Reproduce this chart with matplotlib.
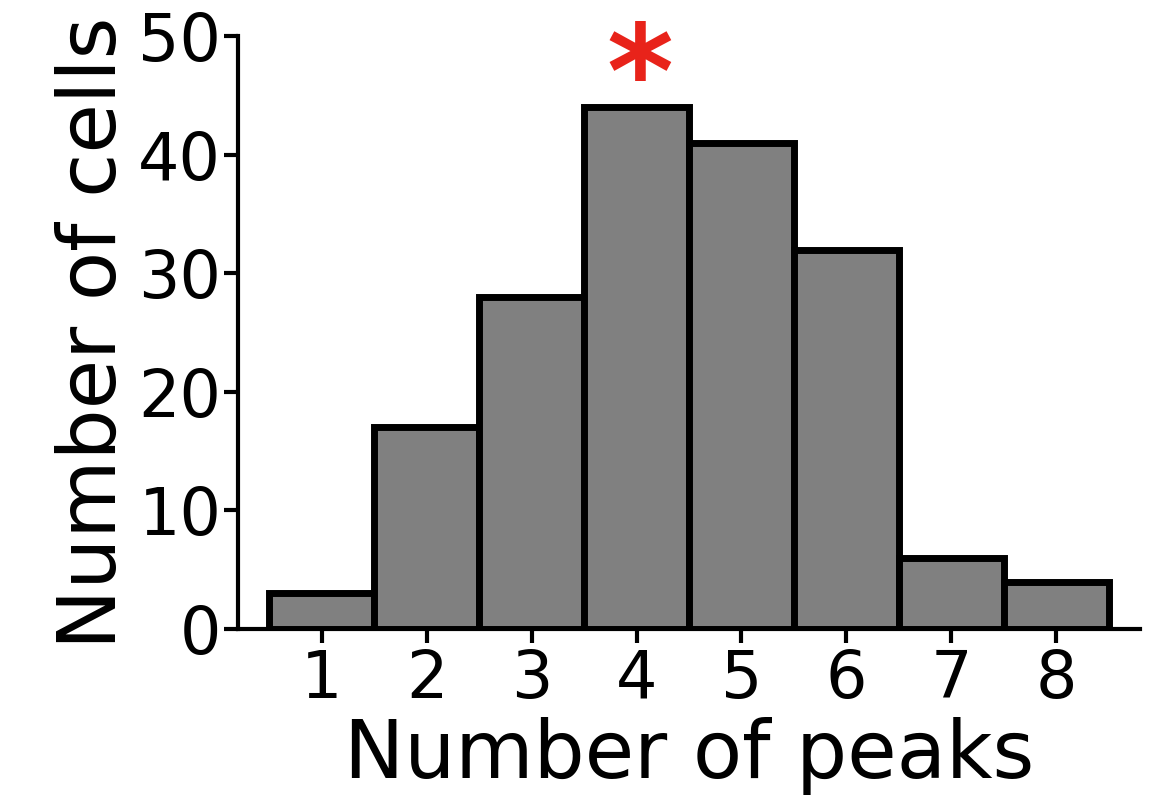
import numpy as np
import matplotlib.pyplot as plt

peaks = [1, 2, 3, 4, 5, 6, 7, 8]
cells = [3, 17, 28, 44, 41, 32, 6, 4]

fig = plt.figure(figsize=(11.52, 8.02), dpi=100)
ax = fig.add_axes([0.2066, 0.2157, 0.7830, 0.7393])

ax.bar(peaks, cells, width=1.0, color='#808080', edgecolor='black', linewidth=5)

# significance marker over the tallest bar
ax.text(4.03, 43.2, '*', color='#e8231a', fontsize=92, fontweight='bold',
        ha='center', va='baseline', clip_on=False, zorder=5)

ax.set_xlim(0.2, 8.8)
ax.set_ylim(0, 50)
ax.set_xticks(peaks)
ax.set_yticks([0, 10, 20, 30, 40, 50])
ax.tick_params(labelsize=47, width=3, length=10)
ax.tick_params(axis='y', pad=2)
ax.spines['top'].set_visible(False)
ax.spines['right'].set_visible(False)
ax.spines['left'].set_linewidth(3)
ax.spines['bottom'].set_linewidth(3)
ax.set_xlabel('Number of peaks', fontsize=58, labelpad=4)
ax.set_ylabel('Number of cells', fontsize=58, labelpad=4)

fig.savefig('out.png', dpi=100)
